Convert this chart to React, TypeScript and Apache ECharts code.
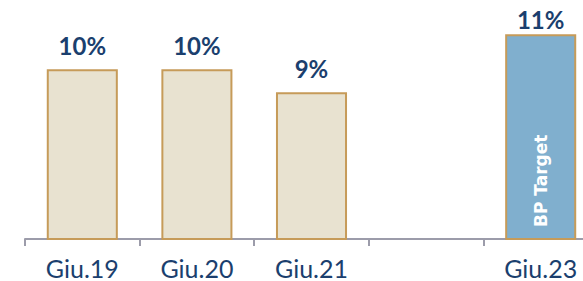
import React, { useEffect, useRef } from "react";
import * as echarts from "echarts";

const categories = ["Giu.19", "Giu.20", "Giu.21", "", "Giu.23"];
const values: (number | null)[] = [9.97, 9.97, 9.3, null, 11.0];
const targetFlags = [false, false, false, false, true];
const targetText = "BP Target";

const NAVY = "#1B3F6E";
const BEIGE = "#E8E2D0";
const BLUE = "#80AFCE";
const GOLD = "#C69B59";
const AXIS = "#9C9CAA";
const FONT = "Lato";

export default function App() {
  const ref = useRef<HTMLDivElement>(null);
  useEffect(() => {
    if (!ref.current) return;
    const chart = echarts.init(ref.current, undefined, { renderer: "svg" });
    chart.setOption({
      animation: false,
      grid: { left: 25, right: 0, top: 0, bottom: 42, containLabel: false },
      xAxis: {
        type: "category",
        data: categories,
        axisLine: { lineStyle: { color: AXIS, width: 2 } },
        axisTick: { show: true, length: 7, lineStyle: { color: AXIS, width: 2 } },
        axisLabel: { color: NAVY, fontFamily: FONT, fontSize: 25, margin: 16 },
      },
      yAxis: {
        type: "value",
        min: 5,
        max: 12,
        show: false,
        splitLine: { show: false },
      },
      series: [
        {
          type: "bar",
          barWidth: "62%",
          data: values.map((v, i) => ({
            value: v,
            itemStyle: {
              color: targetFlags[i] ? BLUE : BEIGE,
              borderColor: GOLD,
              borderWidth: 2,
            },
            label: { distance: targetFlags[i] ? 3 : 12 },
          })),
          label: {
            show: true,
            position: "top",
            distance: 12,
            color: NAVY,
            fontFamily: FONT,
            fontWeight: "bold",
            fontSize: 24,
            formatter: (p: any) => (p.value == null ? "" : Math.round(p.value) + "%"),
          },
        },
        {
          type: "bar",
          barWidth: "62%",
          barGap: "-100%",
          silent: true,
          itemStyle: { color: "transparent" },
          data: values.map((v, i) => (targetFlags[i] ? v : null)),
          label: {
            show: true,
            position: "insideBottom",
            rotate: 90,
            align: "left",
            verticalAlign: "middle",
            distance: 12,
            color: "#FFFFFF",
            fontFamily: "DejaVu Sans",
            fontWeight: "bold",
            fontSize: 17,
            formatter: () => targetText,
          },
        },
      ],
    });
    return () => chart.dispose();
  }, []);
  return (
    <div style={{ position: "fixed", left: 0, top: 0, width: 583, height: 281, overflow: "hidden", background: "#fff" }}>
      <div ref={ref} style={{ width: 598, height: 281 }} />
    </div>
  );
}
